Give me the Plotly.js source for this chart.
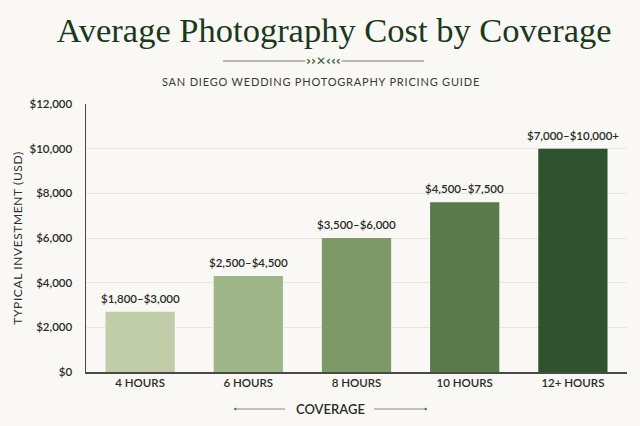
<!DOCTYPE html>
<html>
<head>
<meta charset="utf-8">
<script src="https://cdn.plot.ly/plotly-3.0.1.min.js"></script>
<style>
html,body{margin:0;padding:0;background:#f9f8f4;}
#chart{width:640px;height:426px;}
</style>
</head>
<body>
<div id="chart"></div>
<script>
// ---- data ----
const categories = ["4 HOURS", "6 HOURS", "8 HOURS", "10 HOURS", "12+ HOURS"];
const typicalInvestment = [2700, 4300, 6000, 7600, 10000];
const rangeLabels = ["$1,800–$3,000", "$2,500–$4,500", "$3,500–$6,000", "$4,500–$7,500", "$7,000–$10,000+"];
const yTickValues = [0, 2000, 4000, 6000, 8000, 10000, 12000];
const yTickLabels = ["$0", "$2,000", "$4,000", "$6,000", "$8,000", "$10,000", "$12,000"];

// ---- styles ----
const barColors = ["#c1cca8", "#9fb58a", "#7c9967", "#5b7a4c", "#30522f"];
const bg = "#f9f8f4";
const sans = "Lato, 'Open Sans', sans-serif";
const spaced = (s, ls) => '<span style="letter-spacing:' + ls + 'px">' + s + '</span>';

const trace = {
  type: "bar",
  x: categories,
  y: typicalInvestment,
  marker: {color: barColors, line: {width: 0}},
  hoverinfo: "skip"
};

const labelAnnotations = categories.map((c, i) => ({
  x: c, y: typicalInvestment[i], xref: "x", yref: "y",
  text: rangeLabels[i], showarrow: false,
  yanchor: "bottom", yshift: 5,
  font: {family: sans, size: 11.5, color: "#2a2a2a", weight: 600}
}));

// paper-coord helpers for decoration
const L = 86, R = 13, T = 104, B = 54, W = 640, H = 426;
const px = v => (v - L) / (W - L - R);
const py = v => (H - B - v) / (H - T - B);

const layout = {
  width: W, height: H,
  paper_bgcolor: bg, plot_bgcolor: bg,
  margin: {l: L, r: R, t: T, b: B},
  showlegend: false,
  bargap: 0.36,
  title: {
    text: "Average Photography Cost by Coverage",
    x: px(334), xref: "paper", xanchor: "center",
    y: 1 - 30 / H, yanchor: "middle",
    font: {family: "'Liberation Serif', 'DejaVu Serif', serif", size: 34.5, color: "#1c381d"}
  },
  xaxis: {
    type: "category",
    showgrid: false,
    showline: true, linecolor: "#4a4a48", linewidth: 1.5,
    ticks: "", tickfont: {family: sans, size: 11.5, color: "#2a2a2a", weight: 600},
    fixedrange: true,
    title: {text: ""}
  },
  yaxis: {
    range: [0, 12000],
    tickvals: yTickValues, ticktext: yTickLabels,
    showgrid: true, gridcolor: "#e8e6df", gridwidth: 1,
    zeroline: false,
    showline: true, linecolor: "#4a4a48", linewidth: 1.5,
    ticks: "outside", ticklen: 10, tickcolor: "rgba(0,0,0,0)",
    tickfont: {family: sans, size: 11.5, color: "#2a2a2a", weight: 600},
    title: {text: spaced("TYPICAL INVESTMENT (USD)", 0.6), standoff: 4,
            font: {family: sans, size: 12, color: "#2f2f2f"}},
    fixedrange: true
  },
  annotations: labelAnnotations.concat([
    {
      xref: "paper", yref: "paper", x: px(321), y: py(81),
      text: spaced("SAN DIEGO WEDDING PHOTOGRAPHY PRICING GUIDE", 0.8),
      showarrow: false, xanchor: "center", yanchor: "middle",
      font: {family: sans, size: 11, color: "#3a3a3a"}
    },
    {
      xref: "paper", yref: "paper", x: px(323), y: py(61),
      text: "››✕‹‹‹", showarrow: false, xanchor: "center", yanchor: "middle",
      bgcolor: bg, borderpad: 0,
      font: {family: "'DejaVu Sans', sans-serif", size: 12, color: "#3a5f3b", weight: 700}
    },
    {
      xref: "paper", yref: "paper", x: px(330), y: py(409),
      text: "COVERAGE", showarrow: false, xanchor: "center", yanchor: "middle",
      font: {family: sans, size: 13, color: "#2a2a2a", weight: 600}
    }
  ]),
  shapes: [
    {type: "line", xref: "paper", yref: "paper", x0: px(223), x1: px(424), y0: py(61), y1: py(61),
     line: {color: "#a3a59c", width: 1.5}, layer: "below"},
    {type: "line", xref: "paper", yref: "paper", x0: px(235), x1: px(285), y0: py(409), y1: py(409),
     line: {color: "#8a8a86", width: 1}},
    {type: "line", xref: "paper", yref: "paper", x0: px(374), x1: px(426), y0: py(409), y1: py(409),
     line: {color: "#8a8a86", width: 1}},
    {type: "circle", xref: "paper", yref: "paper", x0: px(234), x1: px(236.5), y0: py(410.2), y1: py(407.8),
     fillcolor: "#6a6a66", line: {width: 0}},
    {type: "circle", xref: "paper", yref: "paper", x0: px(424.5), x1: px(427), y0: py(410.2), y1: py(407.8),
     fillcolor: "#6a6a66", line: {width: 0}}
  ]
};

Plotly.newPlot("chart", [trace], layout, {displayModeBar: false, staticPlot: true});
</script>
</body>
</html>
